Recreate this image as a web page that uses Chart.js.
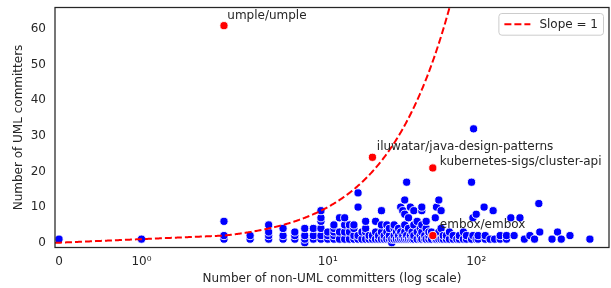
<!DOCTYPE html>
<html><head><meta charset="utf-8">
<script src="https://cdn.jsdelivr.net/npm/chart.js@4/dist/chart.umd.min.js"></script>
<style>html,body{margin:0;padding:0;background:#fff;overflow:hidden}</style>
</head><body>
<canvas id="c" width="611" height="288" style="width:611px;height:288px;display:block"></canvas>
<script>
// ---------------- DATA ----------------
// Blue points: [non-UML committers, [UML committers ...]]
const blueColumns = [
  [0,[1]],[1,[1]],[2,[1,2,6]],[3,[1,2]],[4,[1,2,3,5]],[5,[1,2,4]],[6,[1,2,3]],
  [7,[0,1,2,4]],[8,[1,2,4]],[9,[1,2,4,6,7,9]],[10,[1,2,3]],[11,[1,2,3,4,5]],
  [12,[1,3,7]],[13,[1,3,5,7]],[14,[1,3,5]],[15,[1,2,4,5]],[16,[1,2,10,14]],
  [17,[1,3]],[18,[1,3,4,6]],[19,[1,2]],[20,[1,2]],[21,[1,3,6]],[22,[1,2]],
  [23,[1,3,5,9]],[24,[1,2]],[25,[1,3,5]],[26,[1,2,4]],[27,[0,1]],[28,[1,2,4,5]],
  [29,[1,3]],[30,[1,2,4]],[31,[1,3,10]],[32,[1,2,9]],[33,[1,3,5,8,12]],
  [34,[1,2,17]],[35,[1,4,7]],[36,[1,2,10]],[37,[1,3]],[38,[1,2,5,9]],
  [40,[1,3,6]],[42,[1,2,4]],[43,[1,3,5,9,10]],[45,[1,2]],[46,[1,4,6]],
  [48,[1,2,3]],[50,[1,3]],[53,[1,2,7]],[54,[1,10]],[56,[1,3,12]],[58,[1,4,9]],
  [60,[1,2]],[63,[1,2]],[66,[1,3]],[70,[1,2]],[74,[1]],[77,[1,2]],[82,[1,3]],
  [86,[1,2]],[93,[1,17]],[95,[2,7]],[96,[32]],[100,[1,8]],[103,[1,2]],
  [113,[10]],[115,[1,2]],[124,[1]],[130,[9]],[133,[1]],[145,[1,2]],[160,[1,2]],
  [171,[7]],[180,[2]],[197,[7]],[211,[1]],[230,[2]],[247,[1]],[264,[11]],
  [268,[3]],[324,[1]],[353,[3]],[374,[1]],[428,[2]],[583,[1]]
];
// Highlighted (red, annotated) repositories
const highlightNames = ["umple/umple","iluwatar/java-design-patterns","kubernetes-sigs/cluster-api","embox/embox"];
const highlightX = [2, 20, 51, 51];
const highlightY = [61, 24, 21, 2];
// Axes
const xTickValues = [0, 1, 10, 100];
const xTickLabels = ["0", "10\u2070", "10\u00B9", "10\u00B2"];
const yTickValues = [0, 10, 20, 30, 40, 50, 60];
const xTitle = "Number of non-UML committers (log scale)";
const yTitle = "Number of UML committers";
const lineLabel = "Slope = 1";

// ---------------- SYMLOG SCALE (linthresh 2, linscale 1) ----------------
const LINTHRESH = 2, BASE = 10, LINSCALE = 1;
const LSA = LINSCALE / (1 - 1 / BASE);
function symFwd(v) {
  const a = Math.abs(v), s = v < 0 ? -1 : 1;
  if (a <= LINTHRESH) return s * a * LSA;
  return s * LINTHRESH * (LSA + Math.log(a / LINTHRESH) / Math.log(BASE));
}
function symInv(t) {
  const a = Math.abs(t), s = t < 0 ? -1 : 1;
  if (a <= LINTHRESH * LSA) return s * a / LSA;
  return s * LINTHRESH * Math.pow(BASE, a / LINTHRESH - LSA);
}
class SymlogScale extends Chart.LinearScale {
  determineDataLimits() { this.min = this.options.min; this.max = this.options.max; }
  buildTicks() { return xTickValues.map(v => ({ value: v })); }
  configure() {
    super.configure();
    this._tMin = symFwd(this.min);
    this._tRange = symFwd(this.max) - this._tMin;
  }
  getPixelForValue(v) {
    if (v === null || v === undefined || isNaN(v)) return NaN;
    return this.getPixelForDecimal((symFwd(v) - this._tMin) / this._tRange);
  }
  getValueForPixel(p) { return symInv(this._tMin + this.getDecimalForPixel(p) * this._tRange); }
}
SymlogScale.id = 'symlog';
SymlogScale.defaults = Chart.LinearScale.defaults;
Chart.register(SymlogScale);

// ---------------- STYLE ----------------
const FONT_FAMILY = '"DejaVu Sans", sans-serif';
const FONT_SIZE = 12;
const TEXT = '#262626';
Chart.defaults.font.family = FONT_FAMILY;
Chart.defaults.font.size = FONT_SIZE;
Chart.defaults.color = TEXT;

const bluePoints = blueColumns.flatMap(([x, ys]) => ys.map(y => ({ x, y })));
const redPoints = highlightX.map((x, i) => ({ x, y: highlightY[i] }));

// ---------------- PLUGINS ----------------
const fixArea = {
  id: 'fixArea',
  afterLayout(chart) {
    const a = chart.chartArea, x = chart.scales.x;
    const right = chart.width - 2;
    a.right = right; a.width = a.right - a.left;
    x.right = right; x.width = x.right - x.left;
    x.configure();
    x._labelItems = null; x._gridLineItems = null;
  }
};
const framePlugin = {
  id: 'frame',
  afterDraw(chart) {
    const { ctx, chartArea: a } = chart;
    ctx.save();
    ctx.strokeStyle = TEXT; ctx.lineWidth = 1.25;
    ctx.strokeRect(a.left, a.top, a.right - a.left, a.bottom - a.top);
    ctx.restore();
  }
};
const identityLine = {
  id: 'identityLine',
  afterDatasetsDraw(chart) {
    const { ctx, chartArea: a, scales: { x, y } } = chart;
    ctx.save();
    ctx.beginPath(); ctx.rect(a.left, a.top, a.right - a.left, a.bottom - a.top); ctx.clip();
    ctx.beginPath();
    let first = true;
    for (let px = a.left; px <= a.right; px += 0.5) {
      const v = x.getValueForPixel(px);
      const py = y.getPixelForValue(v);
      if (first) { ctx.moveTo(px, py); first = false; } else ctx.lineTo(px, py);
      if (py < a.top - 20) break;
    }
    ctx.setLineDash([7, 3]);
    ctx.strokeStyle = '#ff0000'; ctx.lineWidth = 2;
    ctx.stroke();
    ctx.restore();
  }
};
const annotations = {
  id: 'annotations',
  afterDraw(chart, args, opts) {
    const { ctx } = chart;
    const meta = chart.getDatasetMeta(0);
    ctx.save();
    ctx.font = FONT_SIZE + 'px ' + FONT_FAMILY;
    ctx.fillStyle = TEXT; ctx.textAlign = 'left'; ctx.textBaseline = 'middle';
    meta.data.forEach((el, i) => {
      const o = opts.offsets[i];
      ctx.fillText(highlightNames[i], el.x + o[0], el.y + o[1]);
    });
    ctx.restore();
  }
};
const legendBox = {
  id: 'legendBox',
  afterDraw(chart) {
    const { ctx, chartArea: a } = chart;
    ctx.save();
    ctx.font = FONT_SIZE + 'px ' + FONT_FAMILY;
    const tw = ctx.measureText(lineLabel).width;
    const pad = 5.5, sample = 26, gap = 9, h = 21.7;
    const w = pad + sample + gap + tw + pad;
    const right = a.right - 5.5, top = a.top + 6, left = right - w;
    ctx.beginPath();
    if (ctx.roundRect) ctx.roundRect(left, top, w, h, 3); else ctx.rect(left, top, w, h);
    ctx.fillStyle = 'rgba(255,255,255,0.8)'; ctx.fill();
    ctx.strokeStyle = '#cccccc'; ctx.lineWidth = 1; ctx.stroke();
    const cy = top + h / 2;
    ctx.beginPath(); ctx.moveTo(left + pad, cy); ctx.lineTo(left + pad + sample, cy);
    ctx.setLineDash([7, 3]); ctx.strokeStyle = '#ff0000'; ctx.lineWidth = 2; ctx.stroke();
    ctx.setLineDash([]);
    ctx.fillStyle = TEXT; ctx.textAlign = 'left'; ctx.textBaseline = 'middle';
    ctx.fillText(lineLabel, left + pad + sample + gap, cy + 0.5);
    ctx.restore();
  }
};

// ---------------- CHART ----------------
new Chart(document.getElementById('c'), {
  type: 'scatter',
  data: {
    datasets: [
      { label: 'highlight', data: redPoints, order: 1, clip: 0,
        backgroundColor: '#ff0000', borderColor: '#ffffff', borderWidth: 0.9, pointRadius: 4.1 },
      { label: 'repos', data: bluePoints, order: 2, clip: 0,
        backgroundColor: '#0000ff', borderColor: '#ffffff', borderWidth: 0.9, pointRadius: 4.1 }
    ]
  },
  options: {
    responsive: false, animation: false, devicePixelRatio: 1, events: [],
    layout: { padding: { top: 7.5, right: 2, left: 0, bottom: 0 } },
    plugins: {
      legend: { display: false }, tooltip: { enabled: false },
      annotations: { offsets: [[3.3, -10], [4.4, -10], [7, -6], [7, -10.7]] }
    },
    scales: {
      x: {
        type: 'symlog', min: -0.0486, max: 784,
        grid: { display: false, drawTicks: false }, border: { display: false },
        ticks: { padding: 7, maxRotation: 0, autoSkip: false, color: TEXT,
                 callback: (v, i) => xTickLabels[xTickValues.indexOf(v)] },
        title: { display: true, text: xTitle, color: TEXT, padding: { top: 0, bottom: 2 } },
        afterFit: s => { s.height = 40.5; s.paddingLeft = 0; s.paddingRight = 0; }
      },
      y: {
        type: 'linear', min: -1.35, max: 66.1,
        grid: { display: false, drawTicks: false }, border: { display: false },
        ticks: { padding: 9, color: TEXT },
        afterBuildTicks: s => { s.ticks = yTickValues.map(v => ({ value: v })); },
        title: { display: true, text: yTitle, color: TEXT, padding: { top: 12, bottom: 0 } },
        afterFit: s => { s.width = 55; s.paddingTop = 0; s.paddingBottom = 0; }
      }
    }
  },
  plugins: [fixArea, identityLine, annotations, legendBox, framePlugin]
});
</script>
</body></html>
